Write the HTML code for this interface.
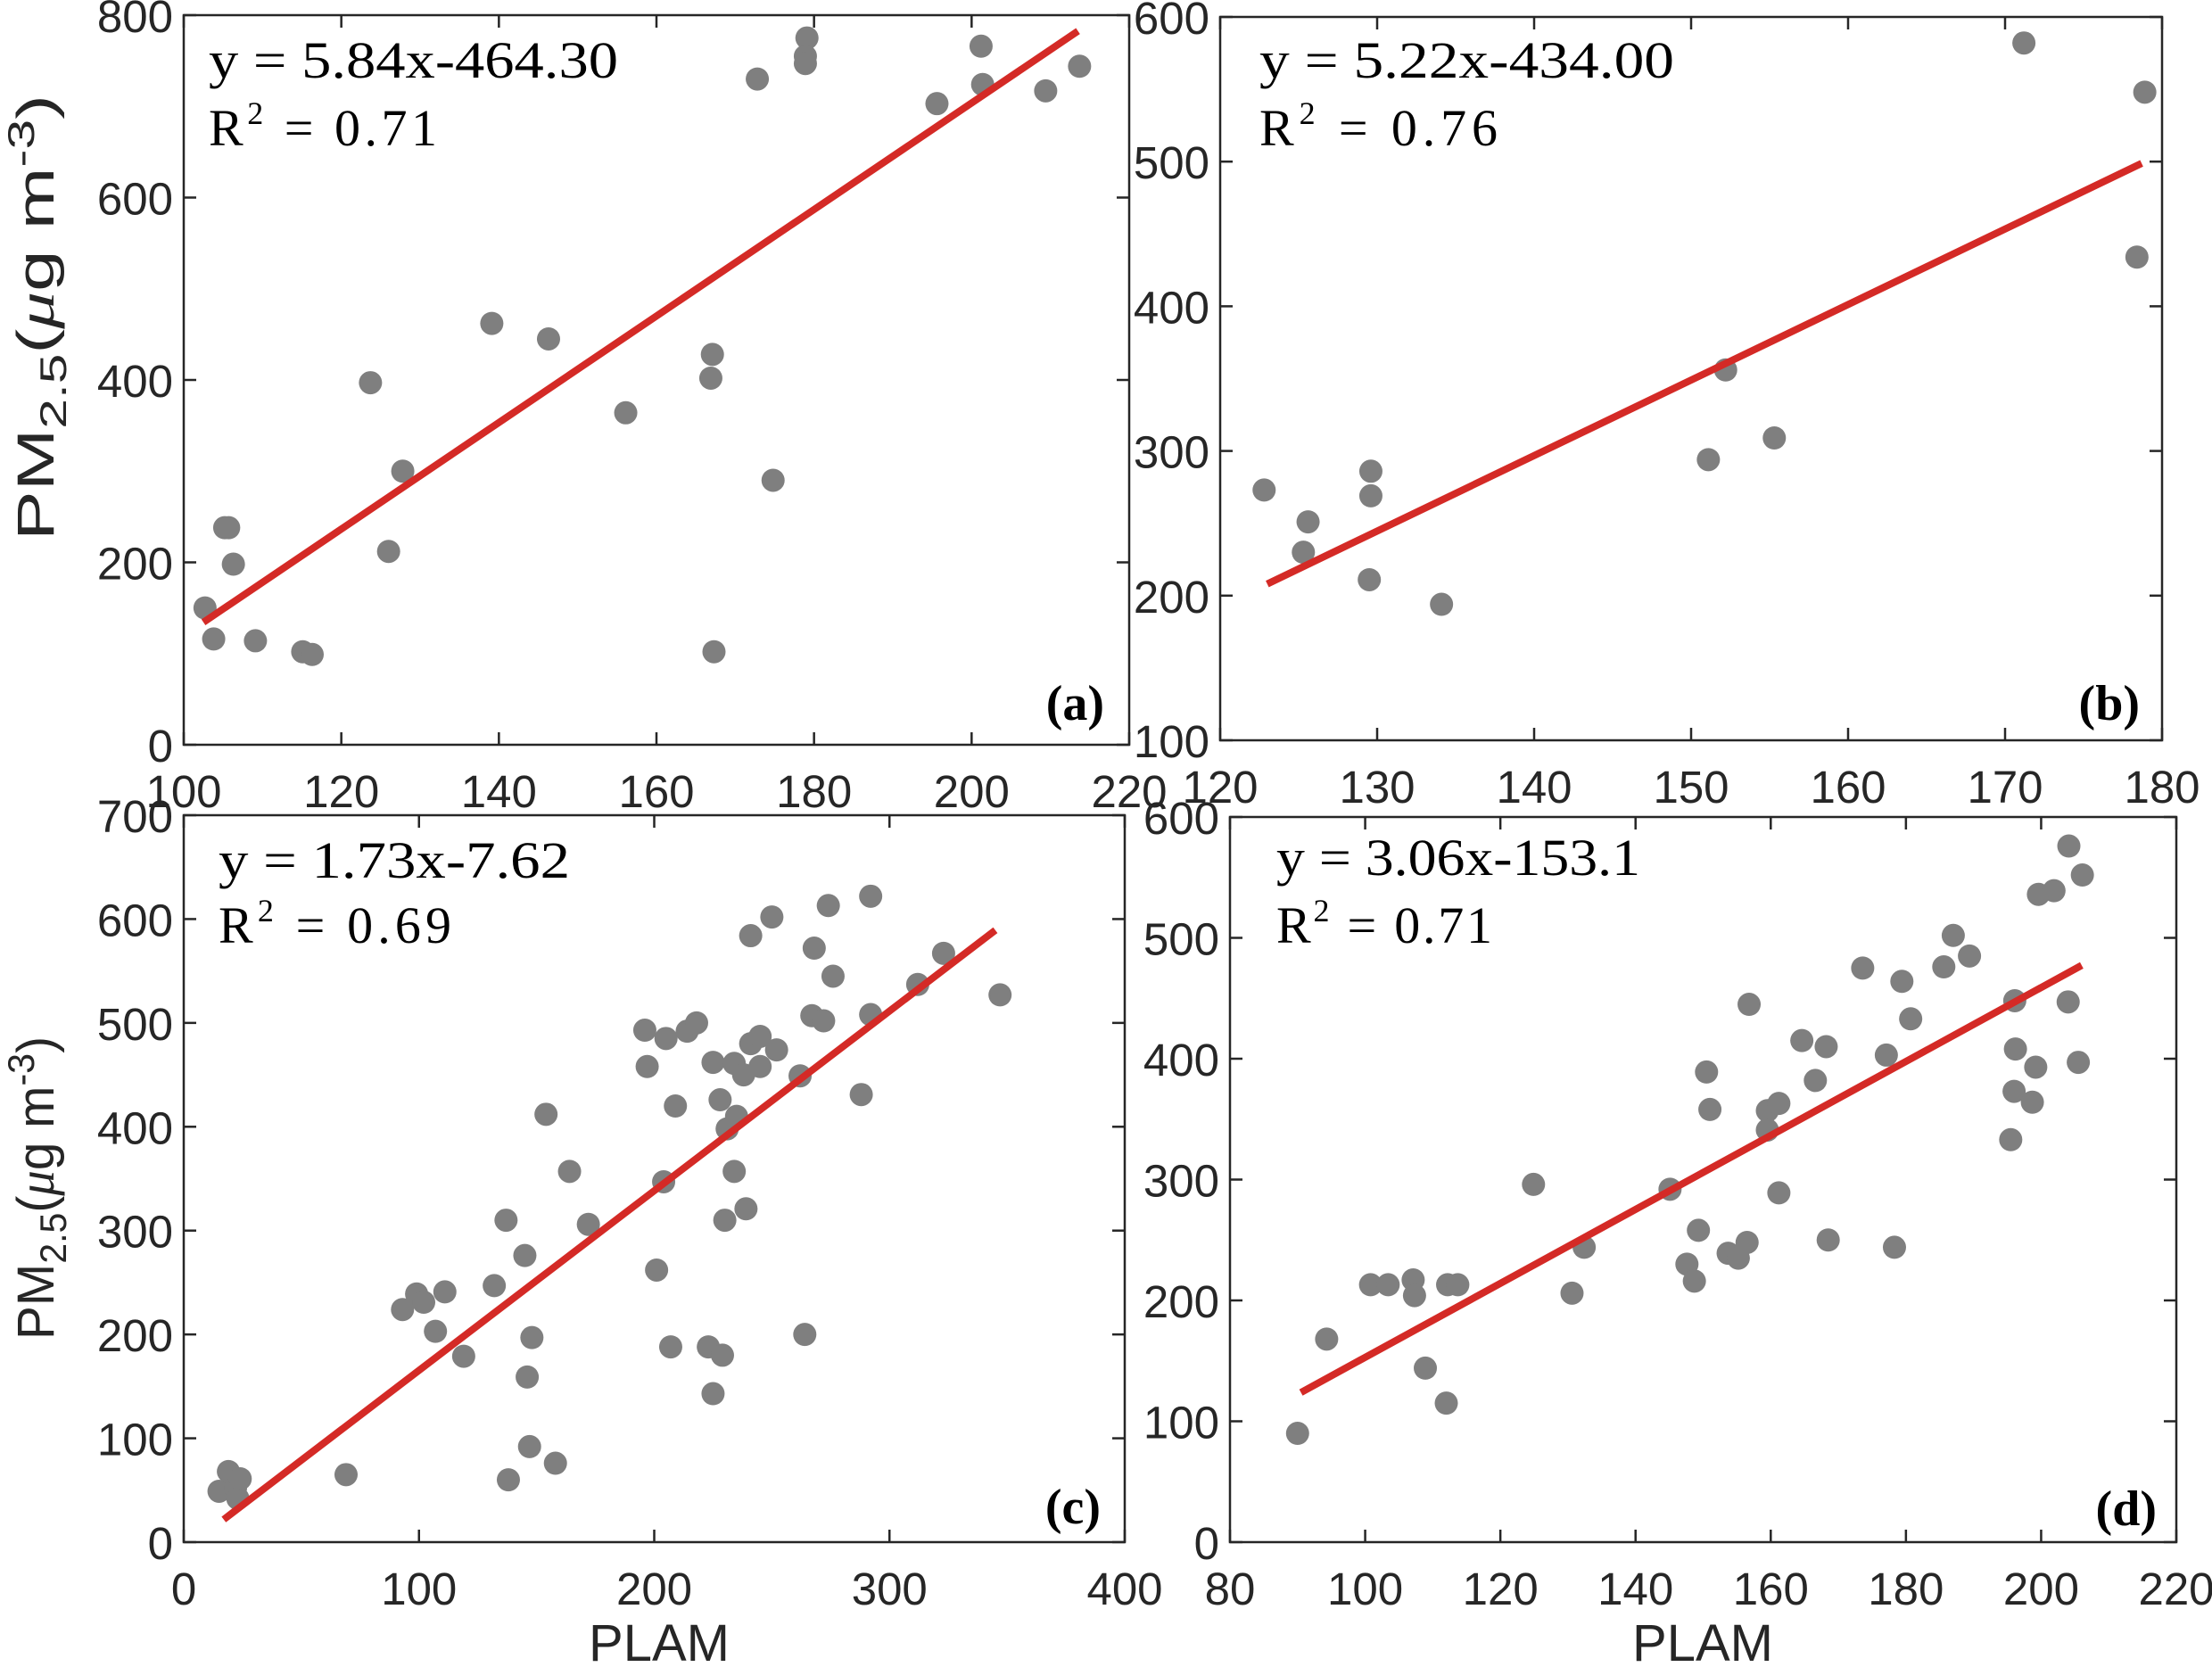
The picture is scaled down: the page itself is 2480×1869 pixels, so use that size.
<!DOCTYPE html>
<html><head><meta charset="utf-8"><style>
html,body{margin:0;padding:0;background:#fff}
svg{display:block}
.tick{font-family:"Liberation Sans",Arial,sans-serif;font-size:51px;fill:#262626}
.eq{font-family:"Liberation Serif","Times New Roman",serif;font-size:58px;fill:#000}
.pl{font-family:"Liberation Serif","Times New Roman",serif;font-size:56px;font-weight:bold;fill:#000}
.ax{font-family:"Liberation Sans",Arial,sans-serif;font-size:58px;fill:#262626}
</style></head><body>
<svg id="chart" width="2480" height="1869" viewBox="0 0 2480 1869" xmlns="http://www.w3.org/2000/svg">
<rect width="2480" height="1869" fill="#fff"/>
</svg>
<script>
// Panel (a)
const aX = [102.7,103.8,105.2,105.7,106.3,109.1,115.1,116.3,123.7,126,127.8,139.1,146.3,156.1,167.1,166.9,167.3,172.8,174.8,179.1,178.9,178.9,195.6,201.2,201.4,209.4,213.7];
const aY = [150,116,238,238,198,114,102,99,397,212,300,462,445,364,428,402,102,730,290,775,755,747,703,766,724,717,744];
const aFit = [5.84,-464.30,102.5,213.5];
const aXTicks = [100,120,140,160,180,200,220];
const aYTicks = [0,200,400,600,800];
// Panel (b)
const bX = [122.8,125.6,125.3,129.6,129.6,129.5,134.1,151.1,152.2,155.3,171.2,178.9,178.4];
const bY = [273,251,230,286,269,211,194,294,356,309,582,548,434];
const bFit = [5.22,-434.00,123,178.7];
const bXTicks = [120,130,140,150,160,170,180];
const bYTicks = [100,200,300,400,500,600];
// Panel (c)
const cX = [15,19,22,23,24,69,93,99,102,107,111,119,132,137,138,145,146,147,148,154,158,164,172,196,197,201,204,205,207,209,214,218,223,225,225,228,229,230,231,234,234,235,238,239,241,241,245,245,250,252,262,264,267,268,272,274,276,288,292,292,312,323,347];
const cY = [49,68,52,42,61,65,224,239,231,203,241,179,247,310,60,276,159,92,197,412,76,357,306,493,458,262,347,485,188,420,492,500,188,462,143,426,180,310,398,461,357,410,450,321,584,480,487,458,602,474,449,200,507,572,502,613,545,431,508,622,537,567,527];
const cFit = [1.73,-7.62,17,345];
const cXTicks = [0,100,200,300,400];
const cYTicks = [0,100,200,300,400,500,600,700];
// Panel (d)
const dX = [90.0,94.3,100.8,103.4,107.1,107.3,108.9,112.0,112.2,113.7,124.9,130.6,132.4,145.1,147.6,148.7,149.3,150.5,151.0,153.7,155.2,156.5,156.8,159.5,159.5,161.2,161.2,164.6,166.6,168.2,168.5,173.6,177.1,178.3,179.4,180.7,185.6,187.0,189.4,195.5,196.0,196.1,196.2,198.7,199.2,199.6,201.9,204.1,204.0,205.5,206.1];
const dY = [90,168,213,213,217,204,144,115,213,213,296,206,244,292,230,216,258,389,358,239,235,248,445,357,341,363,289,415,382,410,250,475,403,244,464,433,476,502,485,333,373,448,408,364,393,536,539,576,447,397,552];
const dFit = [3.06,-153.1,90.5,206];
const dXTicks = [80,100,120,140,160,180,200,220];
const dYTicks = [0,100,200,300,400,500,600];

const NS="http://www.w3.org/2000/svg";
const svg=document.getElementById('chart');
function mk(tag,attrs,parent){const e=document.createElementNS(NS,tag);for(const k in attrs)e.setAttribute(k,attrs[k]);(parent||svg).appendChild(e);return e;}

function panel(id,box,xr,yr,xs,ys,xt,yt,fit,eq1,eq2,eqPos,lab,labPos){
  const g=mk('g',{});
  
  
  const [L,T,R,B]=box;
  const sx=v=>L+(v-xr[0])/(xr[1]-xr[0])*(R-L);
  const sy=v=>B-(v-yr[0])/(yr[1]-yr[0])*(B-T);
  const frame=mk('rect',{x:L,y:T,width:R-L,height:B-T,fill:'none',stroke:'#262626','stroke-width':2.5},g);
  
  
  xt.forEach(v=>{
    const x=sx(v);
    mk('line',{x1:x,y1:B,x2:x,y2:B-14,stroke:'#262626','stroke-width':2.5},g);
    mk('line',{x1:x,y1:T,x2:x,y2:T+14,stroke:'#262626','stroke-width':2.5},g);
    const t=mk('text',{x:x,y:B+70,'text-anchor':'middle',class:'tick'},g);
    t.textContent=v;
    
    
  });
  yt.forEach(v=>{
    const y=sy(v);
    mk('line',{x1:L,y1:y,x2:L+14,y2:y,stroke:'#262626','stroke-width':2.5},g);
    mk('line',{x1:R,y1:y,x2:R-14,y2:y,stroke:'#262626','stroke-width':2.5},g);
    const t=mk('text',{x:L-12,y:y+19,'text-anchor':'end',class:'tick'},g);
    t.textContent=v;
    
    
  });
  xs.forEach((v,i)=>{
    const c=mk('circle',{cx:sx(v),cy:sy(ys[i]),r:13,fill:'#7f7f7f'},g);
    
    
  });
  const [m,b,x0,x1]=fit;
  const ln=mk('line',{x1:sx(x0),y1:sy(m*x0+b),x2:sx(x1),y2:sy(m*x1+b),stroke:'#d42a26','stroke-width':8},g);
  
  
  const e1=mk('text',{x:eqPos[0],y:eqPos[1],class:'eq',textLength:eqPos[2],lengthAdjust:'spacingAndGlyphs'},g);
  e1.textContent=eq1;
  
  
  const e2=mk('text',{x:eqPos[0],y:eqPos[3],class:'eq',textLength:eqPos[4],lengthAdjust:'spacing'},g);
  e2.innerHTML=eq2;
  
  
  const pl=mk('text',{x:labPos[0],y:labPos[1],'text-anchor':'end',class:'pl'},g);
  pl.textContent=lab;
  
  
}
panel('a',[206,17,1266,835],[100,220],[0,800],aX,aY,aXTicks,aYTicks,aFit,'y =  5.84x-464.30','R<tspan font-size="36" dy="-24">2</tspan><tspan dy="24"> =  0.71</tspan>',[234,87,459,163,256],'(a)',[1238,807]);
panel('b',[1368,19,2424,830],[120,180],[100,600],bX,bY,bXTicks,bYTicks,bFit,'y =  5.22x-434.00','R<tspan font-size="36" dy="-24">2</tspan><tspan dy="24"> =  0.76</tspan>',[1412,87,465,163,267],'(b)',[2399,807]);
panel('c',[206,914,1261,1729],[0,400],[0,700],cX,cY,cXTicks,cYTicks,cFit,'y =  1.73x-7.62','R<tspan font-size="36" dy="-24">2</tspan><tspan dy="24"> =  0.69</tspan>',[245,984,394,1057,261],'(c)',[1234,1708]);
panel('d',[1379,916,2440,1729],[80,220],[0,600],dX,dY,dXTicks,dYTicks,dFit,'y = 3.06x-153.1','R<tspan font-size="36" dy="-24">2</tspan><tspan dy="24"> = 0.71</tspan>',[1431,981,408,1057,242],'(d)',[2418,1710]);

function ylab(cy,len,name){
  const t=mk('text',{x:0,y:0,class:'ax','text-anchor':'middle',textLength:len,lengthAdjust:'spacingAndGlyphs',transform:'translate(60,'+cy+') rotate(-90)'});
  t.innerHTML='PM<tspan font-size="42" dy="14">2.5</tspan><tspan dy="-14">(</tspan><tspan font-style="italic" font-family="Liberation Serif,serif">μ</tspan>g m<tspan font-size="42" dy="-22">-3</tspan><tspan dy="22">)</tspan>';
  
  
}
ylab(356,500,'y-axis-title-top');
ylab(1332,340,'y-axis-title-bottom');
const p1=mk('text',{x:739,y:1862,class:'ax','text-anchor':'middle'});
p1.textContent='PLAM';


const p2=mk('text',{x:1909,y:1862,class:'ax','text-anchor':'middle'});
p2.textContent='PLAM';


</script>
</body></html>
